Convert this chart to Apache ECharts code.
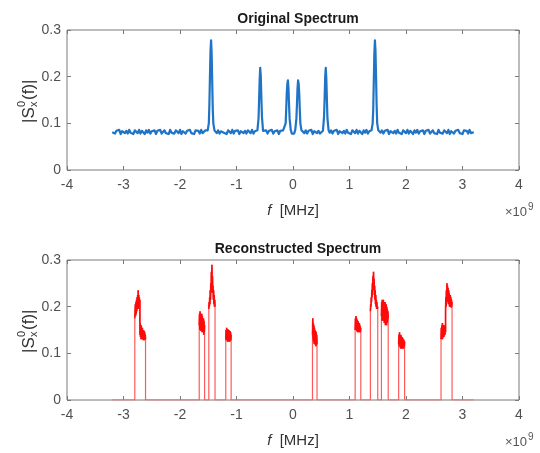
<!DOCTYPE html>
<html><head><meta charset="utf-8">
<script src="https://cdn.jsdelivr.net/npm/echarts@6/dist/echarts.min.js"></script>
<style>html,body{margin:0;padding:0;background:#fff}#c{width:540px;height:453px}</style>
</head><body><div id="c"></div>
<script>
// ---- DATA (frequency in units of 1e9, magnitude) ----
const xTickRange = { min: -4, max: 4, step: 1 };
const yTickRange = { min: 0, max: 0.3, step: 0.1 };
const titles = ['Original Spectrum', 'Reconstructed Spectrum'];

const origFloorLeft = [[-3.200,.081],[-3.175,.085],[-3.150,.078],[-3.125,.084],[-3.100,.080],[-3.075,.086],[-3.050,.077],[-3.025,.083],[-3.000,.085],[-2.975,.079],[-2.950,.084],[-2.925,.078],[-2.900,.086],[-2.875,.080],[-2.850,.083],[-2.825,.077],[-2.800,.085],[-2.775,.081],[-2.750,.079],[-2.725,.086],
[-2.700,.078],[-2.675,.084],[-2.650,.082],[-2.625,.077],[-2.600,.085],[-2.575,.080],[-2.550,.086],[-2.525,.078],[-2.500,.083],[-2.475,.079],[-2.450,.085],[-2.425,.077],[-2.400,.084],[-2.375,.081],[-2.350,.086],[-2.325,.078],[-2.300,.082],[-2.275,.085],[-2.250,.079],[-2.225,.083],
[-2.200,.077],[-2.175,.086],[-2.150,.080],[-2.125,.084],[-2.100,.078],[-2.075,.085],[-2.050,.081],[-2.025,.079],[-2.000,.086],[-1.975,.077],[-1.950,.083],[-1.925,.085],[-1.900,.078],[-1.875,.084],[-1.850,.080],[-1.825,.086],[-1.800,.079],[-1.775,.082],[-1.750,.077],[-1.725,.085],
[-1.700,.081],[-1.675,.084],[-1.650,.078],[-1.625,.086],[-1.600,.079],[-1.575,.083],[-1.550,.085]];
const origPeak1 = [[-1.51,.085],[-1.49,.10],[-1.48,.14],[-1.47,.20],[-1.46,.255],[-1.45,.278],[-1.44,.25],[-1.43,.19],[-1.42,.13],[-1.41,.10],[-1.39,.085]];
const origFloor2 = [[-1.350,.079],[-1.325,.085],[-1.300,.078],[-1.275,.083],[-1.250,.086],[-1.225,.080],[-1.200,.084],[-1.175,.077],[-1.150,.085],[-1.125,.081],[-1.100,.079],[-1.075,.086],[-1.050,.078],[-1.025,.084],[-1.000,.080],[-0.975,.085],[-0.950,.077],[-0.925,.083],[-0.900,.086],[-0.875,.079],[-0.850,.084],[-0.825,.078],[-0.800,.085],[-0.775,.081],[-0.750,.079],[-0.725,.086],[-0.700,.078],[-0.675,.083],[-0.650,.080]];
const origPeak2 = [[-0.63,.085],[-0.61,.11],[-0.60,.15],[-0.59,.195],[-0.58,.219],[-0.57,.20],[-0.56,.155],[-0.55,.115],[-0.53,.084]];
const origFloor3 = [[-0.500,.080],[-0.475,.085],[-0.450,.078],[-0.425,.084],[-0.400,.081],[-0.375,.086],[-0.350,.078],[-0.325,.083],[-0.300,.079],[-0.275,.085],[-0.250,.077],[-0.225,.084],[-0.200,.080],[-0.175,.085],[-0.150,.082]];
const origPeak34 = [[-0.13,.10],[-0.12,.13],[-0.11,.165],[-0.10,.185],[-0.09,.192],[-0.08,.175],[-0.07,.14],[-0.06,.11],[-0.04,.086],[-0.02,.078],[0.00,.074],[0.02,.078],[0.04,.086],[0.06,.11],[0.07,.14],[0.08,.175],[0.09,.192],[0.10,.185],[0.11,.165],[0.12,.13],[0.13,.10],[0.15,.085]];
const origFloor4 = [[0.200,.079],[0.225,.085],[0.250,.078],[0.275,.084],[0.300,.080],[0.325,.086],[0.350,.077],[0.375,.083],[0.400,.085],[0.425,.079],[0.450,.084],[0.475,.078],[0.500,.082]];
const origPeak5 = [[0.53,.084],[0.55,.115],[0.56,.155],[0.57,.20],[0.58,.219],[0.59,.195],[0.60,.15],[0.61,.11],[0.63,.085]];
const origFloor5 = [[0.650,.080],[0.675,.085],[0.700,.078],[0.725,.084],[0.750,.081],[0.775,.086],[0.800,.077],[0.825,.083],[0.850,.085],[0.875,.079],[0.900,.084],[0.925,.078],[0.950,.086],[0.975,.080],[1.000,.083],[1.025,.077],[1.050,.085],[1.075,.081],[1.100,.079],[1.125,.086],[1.150,.078],[1.175,.084],[1.200,.082],[1.225,.077],[1.250,.085],[1.275,.080],[1.300,.086],[1.325,.078],[1.350,.083]];
const origPeak6 = [[1.39,.085],[1.41,.10],[1.42,.13],[1.43,.19],[1.44,.25],[1.45,.278],[1.46,.255],[1.47,.20],[1.48,.14],[1.49,.10],[1.51,.085]];
const origFloorRight = [[1.550,.080],[1.575,.085],[1.600,.078],[1.625,.084],[1.650,.081],[1.675,.086],[1.700,.077],[1.725,.083],[1.750,.085],[1.775,.079],[1.800,.084],[1.825,.078],[1.850,.086],[1.875,.080],[1.900,.083],[1.925,.077],[1.950,.085],[1.975,.081],[2.000,.079],[2.025,.086],
[2.050,.078],[2.075,.084],[2.100,.082],[2.125,.077],[2.150,.085],[2.175,.080],[2.200,.086],[2.225,.078],[2.250,.083],[2.275,.079],[2.300,.085],[2.325,.077],[2.350,.084],[2.375,.081],[2.400,.086],[2.425,.078],[2.450,.082],[2.475,.085],[2.500,.079],[2.525,.083],
[2.550,.077],[2.575,.086],[2.600,.080],[2.625,.084],[2.650,.078],[2.675,.085],[2.700,.081],[2.725,.079],[2.750,.086],[2.775,.077],[2.800,.083],[2.825,.085],[2.850,.078],[2.875,.084],[2.900,.080],[2.925,.086],[2.950,.079],[2.975,.082],[3.000,.077],[3.025,.085],
[3.050,.081],[3.075,.084],[3.100,.078],[3.125,.086],[3.150,.079],[3.175,.083],[3.200,.081]];

const recStart = [[-3.20,0]];
const recBandA = [[-2.80,0],[-2.80,.175],[-2.79,.205],[-2.785,.18],[-2.78,.21],[-2.775,.185],[-2.77,.215],[-2.765,.19],[-2.76,.22],[-2.755,.195],[-2.75,.225],[-2.745,.195],[-2.74,.235],[-2.735,.20],[-2.73,.225],[-2.725,.20],[-2.72,.22],[-2.715,.195],[-2.71,.215],
  [-2.71,.14],[-2.705,.165],[-2.70,.135],[-2.695,.16],[-2.69,.13],[-2.685,.16],[-2.68,.135],[-2.675,.155],[-2.67,.13],[-2.665,.155],[-2.66,.13],[-2.655,.15],[-2.65,.128],[-2.645,.15],[-2.64,.13],[-2.635,.148],[-2.63,.128],[-2.625,.145],[-2.62,.13],[-2.615,.14],[-2.61,.13],[-2.61,0]];
const recBandB = [[-1.66,0],[-1.66,.16],[-1.655,.185],[-1.65,.15],[-1.645,.19],[-1.64,.15],[-1.635,.185],[-1.63,.148],[-1.625,.18],[-1.62,.15],[-1.615,.185],[-1.61,.145],[-1.605,.18],[-1.60,.148],[-1.595,.175],[-1.59,.145],[-1.585,.175],[-1.58,.14],[-1.575,.17],[-1.57,.145],[-1.565,.16],[-1.565,0]];
const recBandC = [[-1.49,0],[-1.49,.195],[-1.485,.21],[-1.48,.20],[-1.475,.22],[-1.47,.205],[-1.465,.235],[-1.46,.215],[-1.455,.25],[-1.45,.23],[-1.445,.275],[-1.44,.25],[-1.435,.29],[-1.43,.245],[-1.425,.265],[-1.42,.23],[-1.415,.245],[-1.41,.215],[-1.405,.235],[-1.40,.205],[-1.395,.225],[-1.39,.20],[-1.385,.215],[-1.38,.20],[-1.38,0]];
const recBandD = [[-1.19,0],[-1.19,.13],[-1.185,.15],[-1.18,.128],[-1.175,.155],[-1.17,.13],[-1.165,.15],[-1.16,.125],[-1.155,.152],[-1.15,.128],[-1.145,.148],[-1.14,.125],[-1.135,.15],[-1.13,.127],[-1.125,.145],[-1.12,.125],[-1.115,.148],[-1.11,.127],[-1.105,.145],[-1.10,.128],[-1.095,.14],[-1.095,0]];
const recBandE = [[0.345,0],[0.345,.14],[0.35,.175],[0.355,.13],[0.36,.165],[0.365,.125],[0.37,.16],[0.375,.12],[0.38,.155],[0.385,.12],[0.39,.15],[0.395,.118],[0.40,.148],[0.405,.115],[0.41,.145],[0.415,.118],[0.42,.14],[0.425,.12],[0.425,0]];
const recBandF = [[1.10,0],[1.10,.15],[1.105,.175],[1.11,.15],[1.115,.18],[1.12,.15],[1.125,.175],[1.13,.148],[1.135,.172],[1.14,.145],[1.145,.17],[1.15,.145],[1.155,.168],[1.16,.145],[1.165,.165],[1.17,.145],[1.175,.165],[1.18,.145],[1.185,.16],[1.19,.145],[1.20,.155],[1.20,0]];
const recBandG = [[1.37,0],[1.37,.19],[1.375,.205],[1.38,.20],[1.385,.22],[1.39,.21],[1.395,.235],[1.40,.22],[1.405,.25],[1.41,.235],[1.415,.265],[1.42,.245],[1.425,.275],[1.43,.24],[1.435,.26],[1.44,.225],[1.445,.245],[1.45,.215],[1.455,.235],[1.46,.205],[1.465,.225],[1.47,.20],[1.475,.215],[1.48,.195],[1.485,.21],[1.49,.195],[1.50,.20],[1.50,0]];
const recBandH = [[1.565,0],[1.565,.18],[1.57,.21],[1.575,.17],[1.58,.215],[1.585,.175],[1.59,.21],[1.595,.17],[1.60,.215],[1.605,.17],[1.61,.21],[1.615,.165],[1.62,.205],[1.625,.165],[1.63,.21],[1.635,.16],[1.64,.20],[1.645,.165],[1.65,.205],[1.655,.16],[1.66,.20],[1.665,.165],[1.67,.195],[1.675,.17],[1.68,.19],[1.685,.175],[1.685,0]];
const recBandI = [[1.87,0],[1.87,.12],[1.875,.14],[1.88,.115],[1.885,.145],[1.89,.115],[1.895,.14],[1.90,.112],[1.905,.14],[1.91,.11],[1.915,.138],[1.92,.112],[1.925,.135],[1.93,.11],[1.935,.135],[1.94,.112],[1.945,.132],[1.95,.11],[1.955,.13],[1.96,.112],[1.965,.128],[1.97,.115],[1.975,.125],[1.975,0]];
const recBandJ = [[2.62,0],[2.62,.13],[2.625,.155],[2.63,.13],[2.635,.16],[2.64,.13],[2.645,.165],[2.65,.132],[2.655,.16],[2.66,.135],[2.665,.16],[2.67,.135],[2.675,.155],[2.68,.138],[2.685,.16],[2.69,.14],[2.695,.155],[2.70,.145],
  [2.70,.19],[2.705,.22],[2.71,.20],[2.715,.235],[2.72,.21],[2.725,.25],[2.73,.215],[2.735,.245],[2.74,.21],[2.745,.24],[2.75,.205],[2.755,.235],[2.76,.205],[2.765,.23],[2.77,.20],[2.775,.225],[2.78,.20],[2.785,.225],[2.79,.20],[2.795,.22],[2.80,.198],[2.805,.215],[2.81,.20],[2.815,.21],[2.815,0]];
const recEnd = [[3.20,0]];

const recBands = [recBandA, recBandB, recBandC, recBandD, recBandE, recBandF, recBandG, recBandH, recBandI, recBandJ];
const originalSpectrum = [].concat(origFloorLeft, origPeak1, origFloor2, origPeak2, origFloor3, origPeak34, origFloor4, origPeak5, origFloor5, origPeak6, origFloorRight);
const reconstructedSpectrum = [].concat(recStart, ...recBands, recEnd);

// ---- CHART ----
const FONT = 'Liberation Sans, Arial, Helvetica, sans-serif';
const AX = '#7a7a7a';
const PL = 67, PW = 452;
const grids = [
  { left: PL, top: 30, width: PW, height: 140 },
  { left: PL, top: 260, width: PW, height: 140 }
];
const CX = PL + PW / 2;

function xAxis(gi, pos, main) {
  const a = {
    type: 'value', gridIndex: gi, position: pos,
    min: xTickRange.min, max: xTickRange.max, interval: xTickRange.step,
    axisLine: { show: false, onZero: false }, splitLine: { show: false },
    axisTick: { show: true, inside: true, length: 4, lineStyle: { color: AX } },
    axisLabel: { show: main, color: '#505050', fontSize: 14, fontFamily: FONT, margin: 8 }
  };
  if (main) {
    a.name = '{i|f}  [MHz]';
    a.nameLocation = 'middle';
    a.nameGap = 33;
    a.nameTextStyle = { fontSize: 15, color: '#333', fontFamily: FONT,
      rich: { i: { fontStyle: 'italic', fontSize: 15, color: '#333', fontFamily: FONT } } };
  }
  return a;
}
function yAxis(gi, pos, main) {
  return {
    type: 'value', gridIndex: gi, position: pos,
    min: yTickRange.min, max: yTickRange.max, interval: yTickRange.step,
    axisLine: { show: false, onZero: false }, splitLine: { show: false },
    axisTick: { show: true, inside: true, length: 4, lineStyle: { color: AX } },
    axisLabel: { show: main, color: '#505050', fontSize: 14, fontFamily: FONT, margin: 6,
      formatter: v => String(Math.round(v * 10) / 10) }
  };
}

function yLabel(cx, cy) {
  const t = (text, x, y, size) => ({ type: 'text', x: x, y: y,
    style: { text: text, font: size + 'px ' + FONT, fill: '#333', textAlign: 'left', textVerticalAlign: 'middle', align: 'left', verticalAlign: 'middle' } });
  return { type: 'group', x: cx, y: cy, rotation: Math.PI / 2, children: [
    t('|S', -23, 0, 17), t('0', -7, -7, 11), t('x', -7, 5, 11), t('(f)|', 0, 0, 17)
  ] };
}
function expLabel(y) {
  return { type: 'group', children: [
    { type: 'text', x: 527, y: y, style: { text: '\u00d710', font: '13px ' + FONT, fill: '#555', textAlign: 'right', align: 'right', textVerticalAlign: 'middle', verticalAlign: 'middle' } },
    { type: 'text', x: 528, y: y - 5, style: { text: '9', font: '10px ' + FONT, fill: '#555', textAlign: 'left', align: 'left', textVerticalAlign: 'middle', verticalAlign: 'middle' } }
  ] };
}

const chart = echarts.init(document.getElementById('c'), null, { renderer: 'canvas' });
chart.setOption({
  animation: false,
  backgroundColor: '#fff',
  title: [
    { text: titles[0], left: CX, top: 7, textAlign: 'center', textStyle: { fontSize: 14, fontWeight: 'bold', color: '#1a1a1a', fontFamily: FONT } },
    { text: titles[1], left: CX, top: 237, textAlign: 'center', textStyle: { fontSize: 14, fontWeight: 'bold', color: '#1a1a1a', fontFamily: FONT } }
  ],
  grid: grids.map(g => Object.assign({ show: true, borderColor: AX, borderWidth: 1, backgroundColor: 'transparent' }, g)),
  xAxis: [xAxis(0, 'bottom', true), xAxis(0, 'top', false), xAxis(1, 'bottom', true), xAxis(1, 'top', false)],
  yAxis: [yAxis(0, 'left', true), yAxis(0, 'right', false), yAxis(1, 'left', true), yAxis(1, 'right', false)],
  graphic: [yLabel(29, 100), yLabel(29, 330), expLabel(212), expLabel(442)],
  series: [
    { type: 'line', xAxisIndex: 0, yAxisIndex: 0, data: originalSpectrum, showSymbol: false, symbol: 'none',
      lineStyle: { color: '#1f74c6', width: 2.2, join: 'round' }, z: 3 },
    { type: 'line', xAxisIndex: 2, yAxisIndex: 2, data: reconstructedSpectrum, showSymbol: false, symbol: 'none',
      lineStyle: { color: '#ff5a5a', width: 1.2 }, z: 3 }
  ].concat(recBands.map(b => ({
    type: 'line', xAxisIndex: 2, yAxisIndex: 2, data: b.filter(p => p[1] > 0), showSymbol: false, symbol: 'none',
    lineStyle: { color: '#ff0a0a', width: 1.6 }, z: 4
  })))
});
</script></body></html>
